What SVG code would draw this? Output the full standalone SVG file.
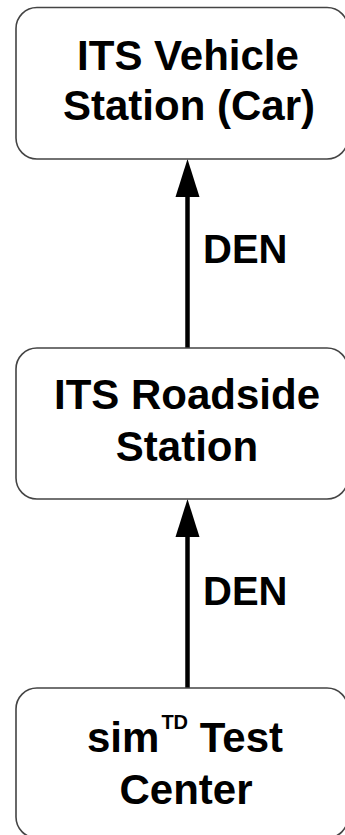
<svg xmlns="http://www.w3.org/2000/svg" width="345" height="835" viewBox="0 0 345 835">
  <style>
    .box { fill: #ffffff; stroke: #444444; stroke-width: 1.6; }
    .lbl { font-family: "Liberation Sans", Arial, sans-serif; font-weight: bold; font-size: 42px; fill: #000000; text-anchor: middle; }
    .edge { font-family: "Liberation Sans", Arial, sans-serif; font-weight: bold; font-size: 40px; fill: #000000; }
    .conn { stroke: #000000; stroke-width: 4.5; fill: none; }
    .head { fill: #000000; }
  </style>
  <rect x="0" y="0" width="345" height="835" fill="#ffffff"/>
  <g id="connectors">
    <line class="conn" x1="187.5" y1="348" x2="187.5" y2="195"/>
    <polygon class="head" points="187.5,159 175.5,197 199.5,197"/>
    <line class="conn" x1="187.5" y1="688" x2="187.5" y2="535"/>
    <polygon class="head" points="187.5,499 175.5,537 199.5,537"/>
    <text class="edge" x="203" y="263">DEN</text>
    <text class="edge" x="203" y="605">DEN</text>
  </g>
  <g id="node-vehicle">
    <rect class="box" x="16" y="7.5" width="332" height="151.5" rx="21" ry="21"/>
    <text class="lbl" x="188" y="70">ITS Vehicle</text>
    <text class="lbl" x="189" y="120">Station (Car)</text>
  </g>
  <g id="node-roadside">
    <rect class="box" x="16" y="348" width="332" height="151" rx="21" ry="21"/>
    <text class="lbl" x="187" y="409">ITS Roadside</text>
    <text class="lbl" x="187" y="461">Station</text>
  </g>
  <g id="node-testcenter">
    <rect class="box" x="16" y="688" width="332" height="150" rx="21" ry="21"/>
    <text class="lbl" x="185" y="752">sim<tspan font-size="20" dx="2" dy="-23">TD</tspan><tspan dy="23"> Test</tspan></text>
    <text class="lbl" x="186" y="804">Center</text>
  </g>
</svg>
